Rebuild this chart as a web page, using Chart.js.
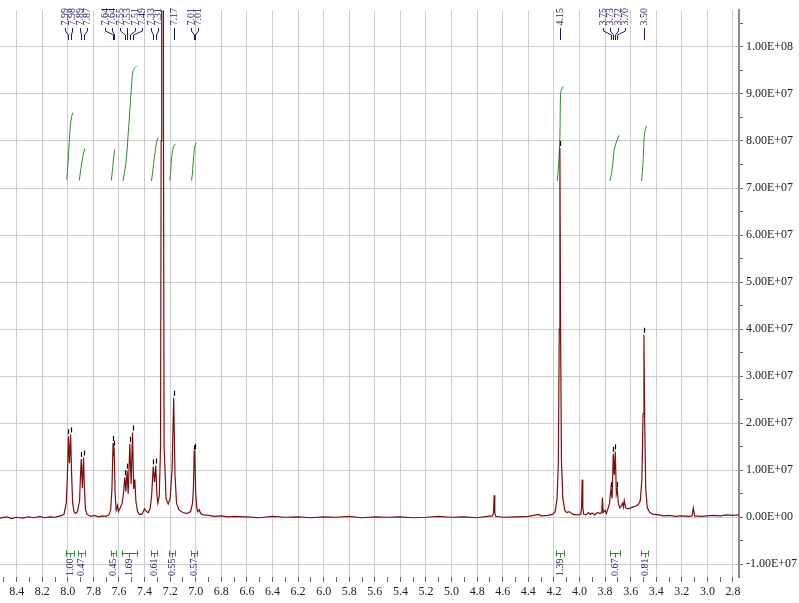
<!DOCTYPE html>
<html>
<head>
<meta charset="utf-8">
<script src="https://cdn.jsdelivr.net/npm/chart.js@4.4.1/dist/chart.umd.min.js"></script>
<style>
  html, body { margin: 0; padding: 0; background: #fff; }
  #nmr { display: block; }
</style>
</head>
<body>
<canvas id="nmr" width="799" height="603"></canvas>
<script>
// 1H NMR trace, chemical shift (ppm) and intensity (units of 1e7)
const shiftPpm = [
  8.53, 8.48, 8.44, 8.40, 8.35, 8.31, 8.26, 8.22, 8.18, 8.14, 8.10, 8.06, 8.03,
  8.012, 8.003, 7.995, 7.987, 7.978, 7.970, 7.962, 7.952, 7.940, 7.925,
  7.908, 7.902, 7.895, 7.886, 7.877, 7.870, 7.862, 7.850,
  7.82, 7.79, 7.76, 7.73, 7.70, 7.68, 7.665,
  7.655, 7.646, 7.642, 7.638, 7.630, 7.622, 7.612, 7.604, 7.590, 7.575, 7.565,
  7.554, 7.546, 7.536, 7.528, 7.515, 7.505, 7.494, 7.485, 7.476, 7.468, 7.455,
  7.440, 7.420, 7.400, 7.385, 7.370, 7.355,
  7.345, 7.332, 7.322, 7.312, 7.304, 7.296, 7.285,
  7.275, 7.270, 7.266, 7.262, 7.256, 7.252, 7.247, 7.232, 7.215, 7.200,
  7.185, 7.172, 7.162, 7.150, 7.130, 7.100, 7.070, 7.040, 7.025,
  7.018, 7.012, 7.009, 7.006, 7.000, 6.992, 6.985, 6.972, 6.962, 6.940,
  6.90, 6.85, 6.80, 6.75, 6.70, 6.60, 6.50, 6.40, 6.30, 6.20, 6.10, 6.00,
  5.90, 5.80, 5.70, 5.60, 5.50, 5.40, 5.30, 5.20, 5.10, 5.00, 4.90, 4.80,
  4.72, 4.68, 4.672, 4.667, 4.662, 4.655, 4.60, 4.50, 4.40, 4.34, 4.32, 4.30,
  4.25, 4.21, 4.19, 4.175, 4.165, 4.158, 4.153, 4.148, 4.141, 4.130, 4.115,
  4.10, 4.08, 4.05, 4.02, 3.99, 3.984, 3.979, 3.974, 3.968, 3.95, 3.93,
  3.915, 3.90, 3.88, 3.86, 3.84, 3.826, 3.82, 3.815, 3.80, 3.79, 3.775,
  3.765, 3.754, 3.745, 3.736, 3.728, 3.720, 3.712, 3.705, 3.696, 3.685,
  3.672, 3.663, 3.657, 3.650, 3.64, 3.62, 3.60, 3.58, 3.56, 3.54, 3.525,
  3.512, 3.503, 3.496, 3.490, 3.482, 3.47, 3.45, 3.42, 3.38, 3.34, 3.30,
  3.25, 3.20, 3.15, 3.12, 3.11, 3.10, 3.05, 3.00, 2.95, 2.90, 2.85, 2.80, 2.75
];
const intensity = [
  -0.02, 0.01, -0.03, 0.00, -0.02, 0.01, -0.01, 0.02, -0.01, 0.01, 0.00, 0.03, 0.06,
  0.30, 0.90, 1.72, 1.15, 1.76, 0.90, 0.30, 0.12, 0.08, 0.12,
  0.35, 0.80, 1.24, 0.62, 1.27, 0.60, 0.18, 0.06,
  0.02, 0.04, 0.01, 0.03, 0.02, 0.05, 0.15,
  0.60, 1.58, 1.30, 1.48, 0.50, 0.15, 0.25, 0.12, 0.20, 0.30, 0.50,
  0.85, 0.55, 0.99, 0.50, 1.56, 0.70, 1.80, 0.60, 0.80, 0.35, 0.12,
  0.06, 0.06, 0.18, 0.12, 0.10, 0.20,
  0.45, 1.08, 0.75, 1.10, 0.50, 0.30, 0.45,
  1.50, 8.0, 40.0, 120.0, 40.0, 8.0, 1.50, 0.40, 0.28, 0.40,
  1.00, 2.54, 0.90, 0.30, 0.15, 0.10, 0.08, 0.12, 0.30,
  0.60, 1.38, 1.35, 1.41, 0.50, 0.20, 0.12, 0.16, 0.08, 0.05,
  0.04, 0.02, 0.03, 0.01, 0.02, 0.01, -0.01, 0.02, 0.00, 0.01, -0.01, 0.01,
  0.00, 0.02, -0.01, 0.01, 0.00, 0.01, -0.01, 0.00, 0.02, 0.00, 0.01, -0.01,
  0.02, 0.03, 0.10, 0.47, 0.10, 0.02, 0.00, 0.01, 0.02, 0.05, 0.06, 0.03,
  0.04, 0.06, 0.12, 0.40, 1.20, 4.00, 7.85, 4.00, 1.20, 0.40, 0.15,
  0.10, 0.12, 0.06, 0.05, 0.06, 0.20, 0.80, 0.20, 0.07, 0.05, 0.10,
  0.06, 0.09, 0.05, 0.10, 0.08, 0.10, 0.42, 0.10, 0.15, 0.08, 0.20,
  0.30, 0.60, 0.40, 1.35, 0.90, 1.40, 0.50, 0.60, 0.30, 0.20,
  0.25, 0.30, 0.22, 0.35, 0.20, 0.18, 0.20, 0.22, 0.24, 0.27, 0.35,
  0.80, 2.20, 3.88, 2.00, 0.60, 0.20, 0.10, 0.06, 0.05, 0.03, 0.04,
  0.02, 0.03, 0.02, 0.03, 0.20, 0.03, 0.02, 0.03, 0.04, 0.03, 0.05, 0.04, 0.05
];

// picked peaks
const peakLabels = ['7.99', '7.98', '7.89', '7.87', '7.64', '7.64', '7.55', '7.53', '7.51', '7.49',
  '7.33', '7.31', '7.17', '7.01', '7.01', '4.15', '3.75', '3.73', '3.72', '3.70', '3.50'];
const peakPpm = [7.995, 7.978, 7.895, 7.877, 7.646, 7.638, 7.554, 7.536, 7.515, 7.494,
  7.332, 7.312, 7.172, 7.012, 7.006, 4.153, 3.754, 3.736, 3.720, 3.705, 3.496];

// integrals
const integralValues = ['1.00', '0.47', '0.45', '1.69', '0.61', '0.55', '0.57', '1.39', '0.67', '0.81'];
const integralFrom = [8.016, 7.920, 7.664, 7.580, 7.351, 7.210, 7.033, 4.185, 3.762, 3.520];
const integralTo = [7.953, 7.867, 7.627, 7.458, 7.302, 7.163, 6.989, 4.122, 3.684, 3.463];
const integralCurvePpm = [
  [8.008, 7.998, 7.985, 7.972, 7.961],
  [7.910, 7.898, 7.887, 7.876, 7.867],
  [7.660, 7.652, 7.645, 7.638, 7.632],
  [7.568, 7.545, 7.529, 7.515, 7.502, 7.489, 7.463],
  [7.346, 7.336, 7.328, 7.318, 7.307, 7.294],
  [7.203, 7.195, 7.190, 7.180, 7.171, 7.158],
  [7.033, 7.026, 7.020, 7.013, 7.007, 6.994],
  [4.174, 4.163, 4.153, 4.148, 4.140, 4.127],
  [3.762, 3.750, 3.741, 3.733, 3.723, 3.690],
  [3.515, 3.508, 3.502, 3.494, 3.485, 3.476]
];
const integralCurveHeight = [
  [7.18, 7.55, 8.15, 8.50, 8.60],
  [7.16, 7.40, 7.60, 7.75, 7.84],
  [7.16, 7.35, 7.55, 7.72, 7.82],
  [7.15, 7.55, 8.10, 8.65, 9.16, 9.50, 9.59],
  [7.15, 7.35, 7.54, 7.75, 7.96, 8.07],
  [7.16, 7.35, 7.61, 7.80, 7.89, 7.94],
  [7.16, 7.30, 7.54, 7.75, 7.89, 7.96],
  [7.15, 7.50, 8.10, 8.99, 9.10, 9.16],
  [7.15, 7.30, 7.47, 7.70, 7.89, 8.12],
  [7.15, 7.35, 7.61, 8.10, 8.25, 8.32]
];

// axis ticks
const yTickValues = [-1, -0.5, 0, 0.5, 1, 1.5, 2, 2.5, 3, 3.5, 4, 4.5, 5, 5.5,
  6, 6.5, 7, 7.5, 8, 8.5, 9, 9.5, 10, 10.5];
const xTickValues = [];
for (let t = 85; t >= 28; t--) xTickValues.push(t / 10);

const SERIF = '"Liberation Serif", "DejaVu Serif", serif';
const LABEL_BLUE = '#1b1b6e';
const INTEGRAL_GREEN = '#2f8a2f';

function sciLabel(v) {
  const val = v * 1e7;
  if (Math.abs(val) < 1) return '0.00E+00';
  const e = Math.floor(Math.log10(Math.abs(val)) + 1e-9);
  const m = val / Math.pow(10, e);
  return m.toFixed(2) + 'E' + (e < 0 ? '-' : '+') + String(Math.abs(e)).padStart(2, '0');
}

function heightAt(ppm) {
  let best = 0;
  shiftPpm.forEach((p, i) => { if (Math.abs(p - ppm) < Math.abs(shiftPpm[best] - ppm)) best = i; });
  return intensity[best];
}

// spread crowded peak labels, keeping each group centred on its peaks
function spreadLabels(xs, gap) {
  let groups = xs.map(v => ({ sum: v, n: 1 }));
  let merged = true;
  while (merged) {
    merged = false;
    for (let i = 0; i < groups.length - 1; i++) {
      const a = groups[i], b = groups[i + 1];
      const aEnd = a.sum / a.n + (a.n - 1) * gap / 2;
      const bStart = b.sum / b.n - (b.n - 1) * gap / 2;
      if (bStart - aEnd < gap) {
        groups.splice(i, 2, { sum: a.sum + b.sum, n: a.n + b.n });
        merged = true;
        break;
      }
    }
  }
  const out = [];
  groups.forEach(g => {
    const c = g.sum / g.n;
    for (let k = 0; k < g.n; k++) out.push(c + (k - (g.n - 1) / 2) * gap);
  });
  return out;
}

const annotations = {
  id: 'annotations',
  afterDatasetsDraw(chart) {
    const { ctx, scales: { x, y } } = chart;
    ctx.save();

    // peak picking labels
    const peakX = peakPpm.map(p => x.getPixelForValue(p));
    const labelX = spreadLabels(peakX, 7.5);
    ctx.font = '10px ' + SERIF;
    ctx.textBaseline = 'middle';
    peakLabels.forEach((txt, i) => {
      const lx = Math.round(labelX[i]) + 0.5;
      const px = Math.round(peakX[i]) + 0.5;
      ctx.strokeStyle = LABEL_BLUE;
      ctx.lineWidth = 1;
      ctx.beginPath();
      ctx.moveTo(lx, 28);
      ctx.lineTo(lx, 31);
      ctx.lineTo(px, 35);
      ctx.lineTo(px, 40);
      ctx.stroke();

      ctx.save();
      ctx.translate(lx, 8);
      ctx.rotate(-Math.PI / 2);
      ctx.fillStyle = LABEL_BLUE;
      ctx.textAlign = 'right';
      ctx.fillText(txt, 0, 0);
      ctx.restore();

      // pick marker above the peak top
      const top = y.getPixelForValue(heightAt(peakPpm[i]));
      if (top > chart.chartArea.top + 10) {
        ctx.strokeStyle = '#000';
        ctx.lineWidth = 1.2;
        ctx.beginPath();
        ctx.moveTo(px, top - 2);
        ctx.lineTo(px, top - 7);
        ctx.stroke();
      }
    });

    // integral brackets and values
    const by = Math.round(y.getPixelForValue(-0.75)) + 0.5;
    integralValues.forEach((txt, i) => {
      const x1 = x.getPixelForValue(integralFrom[i]);
      const x2 = x.getPixelForValue(integralTo[i]);
      const cx = Math.round((x1 + x2) / 2) + 0.5;
      ctx.strokeStyle = INTEGRAL_GREEN;
      ctx.lineWidth = 1;
      ctx.beginPath();
      ctx.moveTo(x1, by); ctx.lineTo(x2, by);
      ctx.moveTo(Math.round(x1) + 0.5, by - 3); ctx.lineTo(Math.round(x1) + 0.5, by + 3);
      ctx.moveTo(Math.round(x2) + 0.5, by - 3); ctx.lineTo(Math.round(x2) + 0.5, by + 3);
      ctx.moveTo(cx, by); ctx.lineTo(cx, by + 4);
      ctx.stroke();

      ctx.save();
      ctx.translate(cx, by + 5);
      ctx.rotate(-Math.PI / 2);
      ctx.fillStyle = LABEL_BLUE;
      ctx.textAlign = 'right';
      ctx.fillText(txt, 0, 0);
      ctx.restore();
    });

    ctx.restore();
  }
};

const datasets = [{
  label: 'spectrum',
  data: shiftPpm.map((p, i) => ({ x: p, y: intensity[i] })),
  borderColor: '#7d0e0e',
  borderWidth: 1.2,
  pointRadius: 0,
  tension: 0
}];
integralCurvePpm.forEach((ppms, k) => {
  datasets.push({
    label: 'integral ' + integralValues[k],
    data: ppms.map((p, i) => ({ x: p, y: integralCurveHeight[k][i] })),
    borderColor: INTEGRAL_GREEN,
    borderWidth: 1,
    pointRadius: 0,
    tension: 0.35
  });
});

new Chart(document.getElementById('nmr'), {
  type: 'line',
  data: { datasets },
  plugins: [annotations],
  options: {
    responsive: false,
    animation: false,
    devicePixelRatio: 1,
    layout: { padding: { top: 7, left: 0, right: 0, bottom: 0 } },
    plugins: {
      legend: { display: false },
      tooltip: { enabled: false }
    },
    scales: {
      x: {
        type: 'linear',
        reverse: true,
        min: 2.753,
        max: 8.53,
        afterBuildTicks: scale => { scale.ticks = xTickValues.map(v => ({ value: v })); },
        afterFit: scale => { scale.height = 26; },
        border: { display: false },
        grid: {
          color: c => (c.tick && Math.round(c.tick.value * 10) % 2 === 0) ? '#cdcdcd' : 'rgba(0,0,0,0)',
          tickColor: '#666',
          tickLength: 5
        },
        ticks: {
          autoSkip: false,
          maxRotation: 0,
          padding: 3,
          color: '#222',
          font: { family: SERIF, size: 12 },
          callback: v => Math.round(v * 10) % 2 === 0 ? v.toFixed(1) : ''
        }
      },
      y: {
        position: 'right',
        min: -1.27,
        max: 10.78,
        afterBuildTicks: scale => { scale.ticks = yTickValues.map(v => ({ value: v })); },
        afterFit: scale => { scale.width = 60; },
        border: { display: true, color: '#8a8a8a', width: 2 },
        grid: {
          color: c => (c.tick && Number.isInteger(c.tick.value)) ? '#cdcdcd' : 'rgba(0,0,0,0)',
          tickColor: '#666',
          tickLength: 4
        },
        ticks: {
          padding: 3,
          color: '#222',
          font: { family: SERIF, size: 12 },
          callback: v => Number.isInteger(v) ? sciLabel(v) : ''
        }
      }
    }
  }
});
</script>
</body>
</html>
